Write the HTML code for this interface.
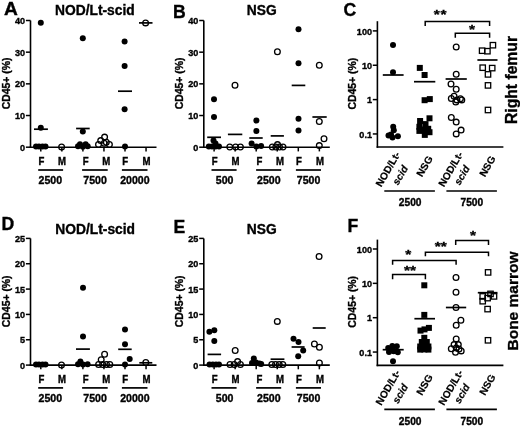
<!DOCTYPE html><html><head><meta charset="utf-8"><style>html,body{margin:0;padding:0;background:#fff;}svg{display:block;font-family:"Liberation Sans", sans-serif;will-change:transform;}</style></head><body>
<svg width="520" height="426" viewBox="0 0 520 426">
<rect width="520" height="426" fill="#fff"/>
<line x1="30.50" y1="20.50" x2="30.50" y2="148.00" stroke="#000" stroke-width="1.6"/>
<line x1="25.90" y1="147.20" x2="30.50" y2="147.20" stroke="#000" stroke-width="1.5"/>
<text transform="translate(25.10 150.80) scale(1.0 1.06)" font-size="9.1" text-anchor="end" font-weight="bold" font-style="normal" stroke="#000" stroke-width="0.35">0</text>
<line x1="25.90" y1="115.52" x2="30.50" y2="115.52" stroke="#000" stroke-width="1.5"/>
<text transform="translate(25.10 119.12) scale(1.0 1.06)" font-size="9.1" text-anchor="end" font-weight="bold" font-style="normal" stroke="#000" stroke-width="0.35">10</text>
<line x1="25.90" y1="83.85" x2="30.50" y2="83.85" stroke="#000" stroke-width="1.5"/>
<text transform="translate(25.10 87.45) scale(1.0 1.06)" font-size="9.1" text-anchor="end" font-weight="bold" font-style="normal" stroke="#000" stroke-width="0.35">20</text>
<line x1="25.90" y1="52.17" x2="30.50" y2="52.17" stroke="#000" stroke-width="1.5"/>
<text transform="translate(25.10 55.77) scale(1.0 1.06)" font-size="9.1" text-anchor="end" font-weight="bold" font-style="normal" stroke="#000" stroke-width="0.35">30</text>
<line x1="25.90" y1="20.50" x2="30.50" y2="20.50" stroke="#000" stroke-width="1.5"/>
<text transform="translate(25.10 24.10) scale(1.0 1.06)" font-size="9.1" text-anchor="end" font-weight="bold" font-style="normal" stroke="#000" stroke-width="0.35">40</text>
<line x1="29.70" y1="147.20" x2="156.50" y2="147.20" stroke="#000" stroke-width="1.6"/>
<line x1="40.80" y1="147.20" x2="40.80" y2="151.40" stroke="#000" stroke-width="1.5"/>
<line x1="61.85" y1="147.20" x2="61.85" y2="151.40" stroke="#000" stroke-width="1.5"/>
<line x1="82.90" y1="147.20" x2="82.90" y2="151.40" stroke="#000" stroke-width="1.5"/>
<line x1="103.95" y1="147.20" x2="103.95" y2="151.40" stroke="#000" stroke-width="1.5"/>
<line x1="125.00" y1="147.20" x2="125.00" y2="151.40" stroke="#000" stroke-width="1.5"/>
<line x1="146.05" y1="147.20" x2="146.05" y2="151.40" stroke="#000" stroke-width="1.5"/>
<text transform="translate(9.90 83.40) rotate(-90)" font-size="10.4" text-anchor="middle" font-weight="bold" font-style="normal" stroke="#000" stroke-width="0.35">CD45+ (%)</text>
<text transform="translate(55.00 15.00)" font-size="13.8" text-anchor="start" font-weight="bold" font-style="normal" stroke="#000" stroke-width="0.35">NOD/Lt-scid</text>
<text transform="translate(4.00 15.30) scale(1.09 1.0)" font-size="17.6" text-anchor="start" font-weight="bold" font-style="normal" stroke="#000" stroke-width="0.35">A</text>
<text transform="translate(41.50 165.20) scale(1.0 1.2)" font-size="9.6" text-anchor="middle" font-weight="bold" font-style="normal" stroke="#000" stroke-width="0.35">F</text>
<text transform="translate(62.00 165.20) scale(1.0 1.2)" font-size="9.6" text-anchor="middle" font-weight="bold" font-style="normal" stroke="#000" stroke-width="0.35">M</text>
<text transform="translate(85.60 165.20) scale(1.0 1.2)" font-size="9.6" text-anchor="middle" font-weight="bold" font-style="normal" stroke="#000" stroke-width="0.35">F</text>
<text transform="translate(106.30 165.20) scale(1.0 1.2)" font-size="9.6" text-anchor="middle" font-weight="bold" font-style="normal" stroke="#000" stroke-width="0.35">M</text>
<text transform="translate(125.20 165.20) scale(1.0 1.2)" font-size="9.6" text-anchor="middle" font-weight="bold" font-style="normal" stroke="#000" stroke-width="0.35">F</text>
<text transform="translate(146.40 165.20) scale(1.0 1.2)" font-size="9.6" text-anchor="middle" font-weight="bold" font-style="normal" stroke="#000" stroke-width="0.35">M</text>
<line x1="38.20" y1="170.00" x2="63.10" y2="170.00" stroke="#000" stroke-width="1.7"/>
<line x1="82.10" y1="170.00" x2="107.70" y2="170.00" stroke="#000" stroke-width="1.7"/>
<line x1="121.90" y1="170.00" x2="147.50" y2="170.00" stroke="#000" stroke-width="1.7"/>
<text transform="translate(50.30 183.90) scale(1.0 1.08)" font-size="10.6" text-anchor="middle" font-weight="bold" font-style="normal" stroke="#000" stroke-width="0.35">2500</text>
<text transform="translate(95.10 183.90) scale(1.0 1.08)" font-size="10.6" text-anchor="middle" font-weight="bold" font-style="normal" stroke="#000" stroke-width="0.35">7500</text>
<text transform="translate(134.90 183.90) scale(1.0 1.08)" font-size="10.6" text-anchor="middle" font-weight="bold" font-style="normal" stroke="#000" stroke-width="0.35">20000</text>
<circle cx="40.80" cy="22.70" r="3.0"/>
<circle cx="40.80" cy="127.80" r="3.0"/>
<line x1="34.00" y1="129.20" x2="47.90" y2="129.20" stroke="#000" stroke-width="1.7"/>
<circle cx="36.00" cy="146.60" r="3.0"/>
<circle cx="39.00" cy="146.60" r="3.0"/>
<circle cx="42.50" cy="146.60" r="3.0"/>
<circle cx="45.50" cy="146.60" r="3.0"/>
<circle cx="61.60" cy="146.90" r="2.85" fill="#fff" fill-opacity="0" stroke="#000" stroke-width="1.3"/>
<circle cx="82.80" cy="38.20" r="3.0"/>
<circle cx="82.80" cy="131.50" r="3.0"/>
<line x1="76.10" y1="128.50" x2="89.70" y2="128.50" stroke="#000" stroke-width="1.7"/>
<circle cx="80.00" cy="144.20" r="3.0"/>
<circle cx="85.60" cy="144.20" r="3.0"/>
<circle cx="78.00" cy="146.30" r="3.0"/>
<circle cx="87.70" cy="146.30" r="3.0"/>
<circle cx="82.80" cy="146.80" r="3.0"/>
<circle cx="104.60" cy="137.10" r="2.85" fill="#fff" fill-opacity="0" stroke="#000" stroke-width="1.3"/>
<circle cx="100.70" cy="140.60" r="2.85" fill="#fff" fill-opacity="0" stroke="#000" stroke-width="1.3"/>
<circle cx="98.50" cy="144.50" r="2.85" fill="#fff" fill-opacity="0" stroke="#000" stroke-width="1.3"/>
<circle cx="104.20" cy="143.20" r="2.85" fill="#fff" fill-opacity="0" stroke="#000" stroke-width="1.3"/>
<circle cx="109.40" cy="144.50" r="2.85" fill="#fff" fill-opacity="0" stroke="#000" stroke-width="1.3"/>
<circle cx="106.30" cy="142.30" r="2.85" fill="#fff" fill-opacity="0" stroke="#000" stroke-width="1.3"/>
<circle cx="124.60" cy="41.60" r="3.0"/>
<circle cx="124.60" cy="66.00" r="3.0"/>
<circle cx="124.60" cy="109.20" r="3.0"/>
<circle cx="125.00" cy="146.50" r="3.0"/>
<line x1="118.00" y1="91.20" x2="132.00" y2="91.20" stroke="#000" stroke-width="1.7"/>
<circle cx="145.60" cy="22.90" r="2.85" fill="#fff" fill-opacity="0" stroke="#000" stroke-width="1.3"/>
<line x1="139.00" y1="22.90" x2="152.50" y2="22.90" stroke="#000" stroke-width="1.7"/>
<line x1="203.80" y1="20.50" x2="203.80" y2="148.00" stroke="#000" stroke-width="1.6"/>
<line x1="199.20" y1="147.20" x2="203.80" y2="147.20" stroke="#000" stroke-width="1.5"/>
<text transform="translate(198.40 150.80) scale(1.0 1.06)" font-size="9.1" text-anchor="end" font-weight="bold" font-style="normal" stroke="#000" stroke-width="0.35">0</text>
<line x1="199.20" y1="115.52" x2="203.80" y2="115.52" stroke="#000" stroke-width="1.5"/>
<text transform="translate(198.40 119.12) scale(1.0 1.06)" font-size="9.1" text-anchor="end" font-weight="bold" font-style="normal" stroke="#000" stroke-width="0.35">10</text>
<line x1="199.20" y1="83.85" x2="203.80" y2="83.85" stroke="#000" stroke-width="1.5"/>
<text transform="translate(198.40 87.45) scale(1.0 1.06)" font-size="9.1" text-anchor="end" font-weight="bold" font-style="normal" stroke="#000" stroke-width="0.35">20</text>
<line x1="199.20" y1="52.17" x2="203.80" y2="52.17" stroke="#000" stroke-width="1.5"/>
<text transform="translate(198.40 55.77) scale(1.0 1.06)" font-size="9.1" text-anchor="end" font-weight="bold" font-style="normal" stroke="#000" stroke-width="0.35">30</text>
<line x1="199.20" y1="20.50" x2="203.80" y2="20.50" stroke="#000" stroke-width="1.5"/>
<text transform="translate(198.40 24.10) scale(1.0 1.06)" font-size="9.1" text-anchor="end" font-weight="bold" font-style="normal" stroke="#000" stroke-width="0.35">40</text>
<line x1="203.00" y1="147.20" x2="329.80" y2="147.20" stroke="#000" stroke-width="1.6"/>
<line x1="214.10" y1="147.20" x2="214.10" y2="151.40" stroke="#000" stroke-width="1.5"/>
<line x1="235.15" y1="147.20" x2="235.15" y2="151.40" stroke="#000" stroke-width="1.5"/>
<line x1="256.20" y1="147.20" x2="256.20" y2="151.40" stroke="#000" stroke-width="1.5"/>
<line x1="277.25" y1="147.20" x2="277.25" y2="151.40" stroke="#000" stroke-width="1.5"/>
<line x1="298.30" y1="147.20" x2="298.30" y2="151.40" stroke="#000" stroke-width="1.5"/>
<line x1="319.35" y1="147.20" x2="319.35" y2="151.40" stroke="#000" stroke-width="1.5"/>
<text transform="translate(183.20 83.40) rotate(-90)" font-size="10.4" text-anchor="middle" font-weight="bold" font-style="normal" stroke="#000" stroke-width="0.35">CD45+ (%)</text>
<text transform="translate(246.80 15.40)" font-size="13.8" text-anchor="start" font-weight="bold" font-style="normal" stroke="#000" stroke-width="0.35">NSG</text>
<text transform="translate(173.00 17.50)" font-size="17.6" text-anchor="start" font-weight="bold" font-style="normal" stroke="#000" stroke-width="0.35">B</text>
<text transform="translate(214.60 165.20) scale(1.0 1.2)" font-size="9.6" text-anchor="middle" font-weight="bold" font-style="normal" stroke="#000" stroke-width="0.35">F</text>
<text transform="translate(235.40 165.20) scale(1.0 1.2)" font-size="9.6" text-anchor="middle" font-weight="bold" font-style="normal" stroke="#000" stroke-width="0.35">M</text>
<text transform="translate(259.40 165.20) scale(1.0 1.2)" font-size="9.6" text-anchor="middle" font-weight="bold" font-style="normal" stroke="#000" stroke-width="0.35">F</text>
<text transform="translate(280.10 165.20) scale(1.0 1.2)" font-size="9.6" text-anchor="middle" font-weight="bold" font-style="normal" stroke="#000" stroke-width="0.35">M</text>
<text transform="translate(299.00 165.20) scale(1.0 1.2)" font-size="9.6" text-anchor="middle" font-weight="bold" font-style="normal" stroke="#000" stroke-width="0.35">F</text>
<text transform="translate(320.00 165.20) scale(1.0 1.2)" font-size="9.6" text-anchor="middle" font-weight="bold" font-style="normal" stroke="#000" stroke-width="0.35">M</text>
<line x1="211.50" y1="170.00" x2="236.60" y2="170.00" stroke="#000" stroke-width="1.7"/>
<line x1="256.10" y1="170.00" x2="281.20" y2="170.00" stroke="#000" stroke-width="1.7"/>
<line x1="295.90" y1="170.00" x2="321.00" y2="170.00" stroke="#000" stroke-width="1.7"/>
<text transform="translate(224.60 183.90) scale(1.0 1.08)" font-size="10.6" text-anchor="middle" font-weight="bold" font-style="normal" stroke="#000" stroke-width="0.35">500</text>
<text transform="translate(268.80 183.90) scale(1.0 1.08)" font-size="10.6" text-anchor="middle" font-weight="bold" font-style="normal" stroke="#000" stroke-width="0.35">2500</text>
<text transform="translate(308.60 183.90) scale(1.0 1.08)" font-size="10.6" text-anchor="middle" font-weight="bold" font-style="normal" stroke="#000" stroke-width="0.35">7500</text>
<circle cx="214.00" cy="99.30" r="3.0"/>
<circle cx="214.00" cy="117.10" r="3.0"/>
<line x1="207.20" y1="137.30" x2="221.00" y2="137.30" stroke="#000" stroke-width="1.7"/>
<circle cx="213.50" cy="140.40" r="3.0"/>
<circle cx="215.50" cy="143.50" r="3.0"/>
<circle cx="208.80" cy="146.60" r="3.0"/>
<circle cx="212.00" cy="146.60" r="3.0"/>
<circle cx="215.50" cy="146.60" r="3.0"/>
<circle cx="219.00" cy="146.60" r="3.0"/>
<circle cx="235.00" cy="85.30" r="2.85" fill="#fff" fill-opacity="0" stroke="#000" stroke-width="1.3"/>
<line x1="227.90" y1="134.40" x2="242.30" y2="134.40" stroke="#000" stroke-width="1.7"/>
<circle cx="229.80" cy="147.00" r="2.85" fill="#fff" fill-opacity="0" stroke="#000" stroke-width="1.3"/>
<circle cx="235.60" cy="147.00" r="2.85" fill="#fff" fill-opacity="0" stroke="#000" stroke-width="1.3"/>
<circle cx="240.40" cy="147.00" r="2.85" fill="#fff" fill-opacity="0" stroke="#000" stroke-width="1.3"/>
<circle cx="256.40" cy="120.60" r="3.0"/>
<circle cx="256.40" cy="130.90" r="3.0"/>
<line x1="249.30" y1="138.00" x2="262.70" y2="138.00" stroke="#000" stroke-width="1.7"/>
<circle cx="251.60" cy="143.60" r="3.0"/>
<circle cx="256.40" cy="146.50" r="3.0"/>
<circle cx="261.10" cy="145.90" r="3.0"/>
<circle cx="277.40" cy="51.70" r="2.85" fill="#fff" fill-opacity="0" stroke="#000" stroke-width="1.3"/>
<line x1="270.70" y1="135.90" x2="283.90" y2="135.90" stroke="#000" stroke-width="1.7"/>
<circle cx="272.30" cy="147.00" r="2.85" fill="#fff" fill-opacity="0" stroke="#000" stroke-width="1.3"/>
<circle cx="275.80" cy="147.00" r="2.85" fill="#fff" fill-opacity="0" stroke="#000" stroke-width="1.3"/>
<circle cx="279.50" cy="147.00" r="2.85" fill="#fff" fill-opacity="0" stroke="#000" stroke-width="1.3"/>
<circle cx="283.00" cy="147.00" r="2.85" fill="#fff" fill-opacity="0" stroke="#000" stroke-width="1.3"/>
<circle cx="277.50" cy="144.60" r="2.85" fill="#fff" fill-opacity="0" stroke="#000" stroke-width="1.3"/>
<circle cx="298.50" cy="29.30" r="3.0"/>
<circle cx="298.50" cy="63.30" r="3.0"/>
<circle cx="298.50" cy="118.70" r="3.0"/>
<circle cx="298.50" cy="130.60" r="3.0"/>
<line x1="291.70" y1="85.40" x2="305.30" y2="85.40" stroke="#000" stroke-width="1.7"/>
<circle cx="319.30" cy="65.30" r="2.85" fill="#fff" fill-opacity="0" stroke="#000" stroke-width="1.3"/>
<circle cx="319.30" cy="121.50" r="2.85" fill="#fff" fill-opacity="0" stroke="#000" stroke-width="1.3"/>
<circle cx="324.00" cy="138.80" r="2.85" fill="#fff" fill-opacity="0" stroke="#000" stroke-width="1.3"/>
<circle cx="319.30" cy="145.60" r="2.85" fill="#fff" fill-opacity="0" stroke="#000" stroke-width="1.3"/>
<line x1="312.40" y1="117.00" x2="326.70" y2="117.00" stroke="#000" stroke-width="1.7"/>
<line x1="377.40" y1="21.20" x2="377.40" y2="147.80" stroke="#000" stroke-width="1.6"/>
<line x1="376.60" y1="147.00" x2="503.40" y2="147.00" stroke="#000" stroke-width="1.6"/>
<line x1="372.80" y1="30.90" x2="377.40" y2="30.90" stroke="#000" stroke-width="1.5"/>
<text transform="translate(372.00 34.60) scale(1.0 1.06)" font-size="9.1" text-anchor="end" font-weight="bold" font-style="normal" stroke="#000" stroke-width="0.35">100</text>
<line x1="372.80" y1="65.25" x2="377.40" y2="65.25" stroke="#000" stroke-width="1.5"/>
<text transform="translate(372.00 68.95) scale(1.0 1.06)" font-size="9.1" text-anchor="end" font-weight="bold" font-style="normal" stroke="#000" stroke-width="0.35">10</text>
<line x1="372.80" y1="99.60" x2="377.40" y2="99.60" stroke="#000" stroke-width="1.5"/>
<text transform="translate(372.00 103.30) scale(1.0 1.06)" font-size="9.1" text-anchor="end" font-weight="bold" font-style="normal" stroke="#000" stroke-width="0.35">1</text>
<line x1="372.80" y1="133.95" x2="377.40" y2="133.95" stroke="#000" stroke-width="1.5"/>
<text transform="translate(372.00 137.65) scale(1.0 1.06)" font-size="9.1" text-anchor="end" font-weight="bold" font-style="normal" stroke="#000" stroke-width="0.35">0.1</text>
<text transform="translate(355.80 83.70) rotate(-90)" font-size="10.4" text-anchor="middle" font-weight="bold" font-style="normal" stroke="#000" stroke-width="0.35">CD45+ (%)</text>
<text transform="translate(343.60 15.90)" font-size="17.6" text-anchor="start" font-weight="bold" font-style="normal" stroke="#000" stroke-width="0.35">C</text>
<text transform="translate(516.70 80.00) rotate(-90)" font-size="15.7" text-anchor="middle" font-weight="bold" font-style="normal" stroke="#000" stroke-width="0.35">Right femur</text>
<text transform="translate(390.94 170.90) rotate(-60)" font-size="10.2" text-anchor="middle" font-weight="bold" font-style="normal" stroke="#000" stroke-width="0.2">NOD/Lt-</text>
<text transform="translate(403.14 177.00) rotate(-60)" font-size="10.2" text-anchor="middle" font-weight="bold" font-style="italic" stroke="#000" stroke-width="0.2">scid</text>
<text transform="translate(427.64 168.00) rotate(-60)" font-size="10.2" text-anchor="middle" font-weight="bold" font-style="normal" stroke="#000" stroke-width="0.2">NSG</text>
<text transform="translate(453.74 170.90) rotate(-60)" font-size="10.2" text-anchor="middle" font-weight="bold" font-style="normal" stroke="#000" stroke-width="0.2">NOD/Lt-</text>
<text transform="translate(464.94 177.00) rotate(-60)" font-size="10.2" text-anchor="middle" font-weight="bold" font-style="italic" stroke="#000" stroke-width="0.2">scid</text>
<text transform="translate(490.44 168.00) rotate(-60)" font-size="10.2" text-anchor="middle" font-weight="bold" font-style="normal" stroke="#000" stroke-width="0.2">NSG</text>
<line x1="384.30" y1="191.00" x2="434.90" y2="191.00" stroke="#000" stroke-width="1.7"/>
<line x1="446.40" y1="191.00" x2="496.90" y2="191.00" stroke="#000" stroke-width="1.7"/>
<text transform="translate(410.20 206.30) scale(1.0 1.06)" font-size="10.2" text-anchor="middle" font-weight="bold" font-style="normal" stroke="#000" stroke-width="0.35">2500</text>
<text transform="translate(471.80 206.30) scale(1.0 1.06)" font-size="10.2" text-anchor="middle" font-weight="bold" font-style="normal" stroke="#000" stroke-width="0.35">7500</text>
<circle cx="393.00" cy="45.10" r="3.0"/>
<circle cx="393.00" cy="72.20" r="3.0"/>
<line x1="382.80" y1="75.00" x2="403.60" y2="75.00" stroke="#000" stroke-width="1.7"/>
<circle cx="393.20" cy="126.80" r="3.0"/>
<circle cx="393.80" cy="130.20" r="3.0"/>
<circle cx="388.50" cy="135.60" r="3.0"/>
<circle cx="392.50" cy="137.60" r="3.0"/>
<circle cx="397.90" cy="136.20" r="3.0"/>
<circle cx="391.00" cy="134.50" r="3.0"/>
<rect x="416.80" y="64.90" width="6.0" height="6.0"/>
<rect x="421.60" y="72.00" width="6.0" height="6.0"/>
<line x1="414.00" y1="81.70" x2="435.30" y2="81.70" stroke="#000" stroke-width="1.7"/>
<rect x="421.60" y="97.20" width="6.0" height="6.0"/>
<rect x="426.80" y="96.10" width="6.0" height="6.0"/>
<rect x="426.50" y="115.30" width="6.0" height="6.0"/>
<rect x="417.10" y="118.00" width="6.0" height="6.0"/>
<rect x="422.50" y="121.10" width="6.0" height="6.0"/>
<rect x="416.40" y="123.80" width="6.0" height="6.0"/>
<rect x="425.20" y="125.80" width="6.0" height="6.0"/>
<rect x="416.40" y="127.90" width="6.0" height="6.0"/>
<rect x="426.50" y="129.20" width="6.0" height="6.0"/>
<rect x="421.80" y="131.90" width="6.0" height="6.0"/>
<rect x="421.50" y="126.50" width="6.0" height="6.0"/>
<circle cx="456.20" cy="47.00" r="2.85" fill="#fff" fill-opacity="0" stroke="#000" stroke-width="1.3"/>
<circle cx="456.20" cy="74.20" r="2.85" fill="#fff" fill-opacity="0" stroke="#000" stroke-width="1.3"/>
<circle cx="451.00" cy="84.00" r="2.85" fill="#fff" fill-opacity="0" stroke="#000" stroke-width="1.3"/>
<circle cx="456.20" cy="89.30" r="2.85" fill="#fff" fill-opacity="0" stroke="#000" stroke-width="1.3"/>
<circle cx="451.30" cy="98.50" r="2.85" fill="#fff" fill-opacity="0" stroke="#000" stroke-width="1.3"/>
<circle cx="454.10" cy="96.30" r="2.85" fill="#fff" fill-opacity="0" stroke="#000" stroke-width="1.3"/>
<circle cx="456.90" cy="99.90" r="2.85" fill="#fff" fill-opacity="0" stroke="#000" stroke-width="1.3"/>
<circle cx="460.40" cy="98.70" r="2.85" fill="#fff" fill-opacity="0" stroke="#000" stroke-width="1.3"/>
<circle cx="461.80" cy="99.90" r="2.85" fill="#fff" fill-opacity="0" stroke="#000" stroke-width="1.3"/>
<circle cx="455.80" cy="102.00" r="2.85" fill="#fff" fill-opacity="0" stroke="#000" stroke-width="1.3"/>
<circle cx="451.30" cy="117.50" r="2.85" fill="#fff" fill-opacity="0" stroke="#000" stroke-width="1.3"/>
<circle cx="456.20" cy="122.10" r="2.85" fill="#fff" fill-opacity="0" stroke="#000" stroke-width="1.3"/>
<circle cx="461.10" cy="130.10" r="2.85" fill="#fff" fill-opacity="0" stroke="#000" stroke-width="1.3"/>
<circle cx="456.20" cy="133.90" r="2.85" fill="#fff" fill-opacity="0" stroke="#000" stroke-width="1.3"/>
<line x1="445.60" y1="79.00" x2="466.80" y2="79.00" stroke="#000" stroke-width="1.7"/>
<rect x="490.20" y="42.50" width="5.4" height="5.4" fill="none" stroke="#000" stroke-width="1.3"/>
<rect x="479.40" y="48.00" width="5.4" height="5.4" fill="none" stroke="#000" stroke-width="1.3"/>
<rect x="484.70" y="48.50" width="5.4" height="5.4" fill="none" stroke="#000" stroke-width="1.3"/>
<rect x="480.00" y="65.00" width="5.4" height="5.4" fill="none" stroke="#000" stroke-width="1.3"/>
<rect x="489.50" y="65.40" width="5.4" height="5.4" fill="none" stroke="#000" stroke-width="1.3"/>
<rect x="485.30" y="71.70" width="5.4" height="5.4" fill="none" stroke="#000" stroke-width="1.3"/>
<rect x="485.30" y="82.70" width="5.4" height="5.4" fill="none" stroke="#000" stroke-width="1.3"/>
<rect x="485.30" y="107.30" width="5.4" height="5.4" fill="none" stroke="#000" stroke-width="1.3"/>
<line x1="477.40" y1="60.00" x2="497.50" y2="60.00" stroke="#000" stroke-width="1.7"/>
<polyline points="425.20,26.00 425.20,21.60 489.60,21.60 489.60,26.00" fill="none" stroke="#000" stroke-width="1.5"/>
<polyline points="455.30,37.70 455.30,33.20 489.60,33.20 489.60,37.70" fill="none" stroke="#000" stroke-width="1.5"/>
<text transform="translate(436.80 19.34) scale(1.0 0.88)" font-size="15.5" text-anchor="middle" font-weight="bold" font-style="normal" stroke="#000" stroke-width="0.35">*</text>
<text transform="translate(443.40 19.34) scale(1.0 0.88)" font-size="15.5" text-anchor="middle" font-weight="bold" font-style="normal" stroke="#000" stroke-width="0.35">*</text>
<text transform="translate(472.10 33.74) scale(1.0 0.88)" font-size="15.5" text-anchor="middle" font-weight="bold" font-style="normal" stroke="#000" stroke-width="0.35">*</text>
<line x1="30.50" y1="238.40" x2="30.50" y2="365.90" stroke="#000" stroke-width="1.6"/>
<line x1="25.90" y1="365.10" x2="30.50" y2="365.10" stroke="#000" stroke-width="1.5"/>
<text transform="translate(25.10 368.70) scale(1.0 1.06)" font-size="9.1" text-anchor="end" font-weight="bold" font-style="normal" stroke="#000" stroke-width="0.35">0</text>
<line x1="25.90" y1="339.76" x2="30.50" y2="339.76" stroke="#000" stroke-width="1.5"/>
<text transform="translate(25.10 343.36) scale(1.0 1.06)" font-size="9.1" text-anchor="end" font-weight="bold" font-style="normal" stroke="#000" stroke-width="0.35">5</text>
<line x1="25.90" y1="314.42" x2="30.50" y2="314.42" stroke="#000" stroke-width="1.5"/>
<text transform="translate(25.10 318.02) scale(1.0 1.06)" font-size="9.1" text-anchor="end" font-weight="bold" font-style="normal" stroke="#000" stroke-width="0.35">10</text>
<line x1="25.90" y1="289.08" x2="30.50" y2="289.08" stroke="#000" stroke-width="1.5"/>
<text transform="translate(25.10 292.68) scale(1.0 1.06)" font-size="9.1" text-anchor="end" font-weight="bold" font-style="normal" stroke="#000" stroke-width="0.35">15</text>
<line x1="25.90" y1="263.74" x2="30.50" y2="263.74" stroke="#000" stroke-width="1.5"/>
<text transform="translate(25.10 267.34) scale(1.0 1.06)" font-size="9.1" text-anchor="end" font-weight="bold" font-style="normal" stroke="#000" stroke-width="0.35">20</text>
<line x1="25.90" y1="238.40" x2="30.50" y2="238.40" stroke="#000" stroke-width="1.5"/>
<text transform="translate(25.10 242.00) scale(1.0 1.06)" font-size="9.1" text-anchor="end" font-weight="bold" font-style="normal" stroke="#000" stroke-width="0.35">25</text>
<line x1="29.70" y1="365.10" x2="156.50" y2="365.10" stroke="#000" stroke-width="1.6"/>
<line x1="40.80" y1="365.10" x2="40.80" y2="369.30" stroke="#000" stroke-width="1.5"/>
<line x1="61.85" y1="365.10" x2="61.85" y2="369.30" stroke="#000" stroke-width="1.5"/>
<line x1="82.90" y1="365.10" x2="82.90" y2="369.30" stroke="#000" stroke-width="1.5"/>
<line x1="103.95" y1="365.10" x2="103.95" y2="369.30" stroke="#000" stroke-width="1.5"/>
<line x1="125.00" y1="365.10" x2="125.00" y2="369.30" stroke="#000" stroke-width="1.5"/>
<line x1="146.05" y1="365.10" x2="146.05" y2="369.30" stroke="#000" stroke-width="1.5"/>
<text transform="translate(9.90 301.30) rotate(-90)" font-size="10.4" text-anchor="middle" font-weight="bold" font-style="normal" stroke="#000" stroke-width="0.35">CD45+ (%)</text>
<text transform="translate(55.30 234.00)" font-size="13.8" text-anchor="start" font-weight="bold" font-style="normal" stroke="#000" stroke-width="0.35">NOD/Lt-scid</text>
<text transform="translate(1.40 230.00)" font-size="17.6" text-anchor="start" font-weight="bold" font-style="normal" stroke="#000" stroke-width="0.35">D</text>
<text transform="translate(41.50 383.10) scale(1.0 1.2)" font-size="9.6" text-anchor="middle" font-weight="bold" font-style="normal" stroke="#000" stroke-width="0.35">F</text>
<text transform="translate(62.00 383.10) scale(1.0 1.2)" font-size="9.6" text-anchor="middle" font-weight="bold" font-style="normal" stroke="#000" stroke-width="0.35">M</text>
<text transform="translate(85.60 383.10) scale(1.0 1.2)" font-size="9.6" text-anchor="middle" font-weight="bold" font-style="normal" stroke="#000" stroke-width="0.35">F</text>
<text transform="translate(106.30 383.10) scale(1.0 1.2)" font-size="9.6" text-anchor="middle" font-weight="bold" font-style="normal" stroke="#000" stroke-width="0.35">M</text>
<text transform="translate(125.20 383.10) scale(1.0 1.2)" font-size="9.6" text-anchor="middle" font-weight="bold" font-style="normal" stroke="#000" stroke-width="0.35">F</text>
<text transform="translate(146.40 383.10) scale(1.0 1.2)" font-size="9.6" text-anchor="middle" font-weight="bold" font-style="normal" stroke="#000" stroke-width="0.35">M</text>
<line x1="38.20" y1="387.90" x2="63.10" y2="387.90" stroke="#000" stroke-width="1.7"/>
<line x1="82.10" y1="387.90" x2="107.70" y2="387.90" stroke="#000" stroke-width="1.7"/>
<line x1="121.90" y1="387.90" x2="147.50" y2="387.90" stroke="#000" stroke-width="1.7"/>
<text transform="translate(50.30 401.80) scale(1.0 1.08)" font-size="10.6" text-anchor="middle" font-weight="bold" font-style="normal" stroke="#000" stroke-width="0.35">2500</text>
<text transform="translate(95.10 401.80) scale(1.0 1.08)" font-size="10.6" text-anchor="middle" font-weight="bold" font-style="normal" stroke="#000" stroke-width="0.35">7500</text>
<text transform="translate(134.90 401.80) scale(1.0 1.08)" font-size="10.6" text-anchor="middle" font-weight="bold" font-style="normal" stroke="#000" stroke-width="0.35">20000</text>
<circle cx="36.00" cy="364.60" r="3.0"/>
<circle cx="39.00" cy="364.60" r="3.0"/>
<circle cx="42.50" cy="364.60" r="3.0"/>
<circle cx="45.50" cy="364.60" r="3.0"/>
<circle cx="61.50" cy="365.00" r="2.85" fill="#fff" fill-opacity="0" stroke="#000" stroke-width="1.3"/>
<circle cx="83.00" cy="287.80" r="3.0"/>
<circle cx="83.00" cy="336.60" r="3.0"/>
<line x1="76.00" y1="349.10" x2="89.90" y2="349.10" stroke="#000" stroke-width="1.7"/>
<circle cx="80.40" cy="361.50" r="3.0"/>
<circle cx="78.00" cy="364.30" r="3.0"/>
<circle cx="83.00" cy="364.60" r="3.0"/>
<circle cx="87.60" cy="364.30" r="3.0"/>
<circle cx="104.60" cy="354.20" r="2.85" fill="#fff" fill-opacity="0" stroke="#000" stroke-width="1.3"/>
<circle cx="101.20" cy="359.80" r="2.85" fill="#fff" fill-opacity="0" stroke="#000" stroke-width="1.3"/>
<circle cx="98.60" cy="364.50" r="2.85" fill="#fff" fill-opacity="0" stroke="#000" stroke-width="1.3"/>
<circle cx="102.60" cy="364.50" r="2.85" fill="#fff" fill-opacity="0" stroke="#000" stroke-width="1.3"/>
<circle cx="106.50" cy="364.50" r="2.85" fill="#fff" fill-opacity="0" stroke="#000" stroke-width="1.3"/>
<circle cx="109.80" cy="364.50" r="2.85" fill="#fff" fill-opacity="0" stroke="#000" stroke-width="1.3"/>
<circle cx="125.00" cy="329.40" r="3.0"/>
<circle cx="125.00" cy="344.30" r="3.0"/>
<circle cx="129.70" cy="359.00" r="3.0"/>
<circle cx="125.00" cy="364.40" r="3.0"/>
<line x1="118.20" y1="349.30" x2="131.70" y2="349.30" stroke="#000" stroke-width="1.7"/>
<circle cx="145.80" cy="362.50" r="2.85" fill="#fff" fill-opacity="0" stroke="#000" stroke-width="1.3"/>
<line x1="139.30" y1="362.80" x2="152.30" y2="362.80" stroke="#000" stroke-width="1.7"/>
<line x1="203.80" y1="238.40" x2="203.80" y2="365.90" stroke="#000" stroke-width="1.6"/>
<line x1="199.20" y1="365.10" x2="203.80" y2="365.10" stroke="#000" stroke-width="1.5"/>
<text transform="translate(198.40 368.70) scale(1.0 1.06)" font-size="9.1" text-anchor="end" font-weight="bold" font-style="normal" stroke="#000" stroke-width="0.35">0</text>
<line x1="199.20" y1="339.76" x2="203.80" y2="339.76" stroke="#000" stroke-width="1.5"/>
<text transform="translate(198.40 343.36) scale(1.0 1.06)" font-size="9.1" text-anchor="end" font-weight="bold" font-style="normal" stroke="#000" stroke-width="0.35">5</text>
<line x1="199.20" y1="314.42" x2="203.80" y2="314.42" stroke="#000" stroke-width="1.5"/>
<text transform="translate(198.40 318.02) scale(1.0 1.06)" font-size="9.1" text-anchor="end" font-weight="bold" font-style="normal" stroke="#000" stroke-width="0.35">10</text>
<line x1="199.20" y1="289.08" x2="203.80" y2="289.08" stroke="#000" stroke-width="1.5"/>
<text transform="translate(198.40 292.68) scale(1.0 1.06)" font-size="9.1" text-anchor="end" font-weight="bold" font-style="normal" stroke="#000" stroke-width="0.35">15</text>
<line x1="199.20" y1="263.74" x2="203.80" y2="263.74" stroke="#000" stroke-width="1.5"/>
<text transform="translate(198.40 267.34) scale(1.0 1.06)" font-size="9.1" text-anchor="end" font-weight="bold" font-style="normal" stroke="#000" stroke-width="0.35">20</text>
<line x1="199.20" y1="238.40" x2="203.80" y2="238.40" stroke="#000" stroke-width="1.5"/>
<text transform="translate(198.40 242.00) scale(1.0 1.06)" font-size="9.1" text-anchor="end" font-weight="bold" font-style="normal" stroke="#000" stroke-width="0.35">25</text>
<line x1="203.00" y1="365.10" x2="329.80" y2="365.10" stroke="#000" stroke-width="1.6"/>
<line x1="214.10" y1="365.10" x2="214.10" y2="369.30" stroke="#000" stroke-width="1.5"/>
<line x1="235.15" y1="365.10" x2="235.15" y2="369.30" stroke="#000" stroke-width="1.5"/>
<line x1="256.20" y1="365.10" x2="256.20" y2="369.30" stroke="#000" stroke-width="1.5"/>
<line x1="277.25" y1="365.10" x2="277.25" y2="369.30" stroke="#000" stroke-width="1.5"/>
<line x1="298.30" y1="365.10" x2="298.30" y2="369.30" stroke="#000" stroke-width="1.5"/>
<line x1="319.35" y1="365.10" x2="319.35" y2="369.30" stroke="#000" stroke-width="1.5"/>
<text transform="translate(183.20 301.30) rotate(-90)" font-size="10.4" text-anchor="middle" font-weight="bold" font-style="normal" stroke="#000" stroke-width="0.35">CD45+ (%)</text>
<text transform="translate(246.80 233.50)" font-size="13.8" text-anchor="start" font-weight="bold" font-style="normal" stroke="#000" stroke-width="0.35">NSG</text>
<text transform="translate(173.50 233.10)" font-size="17.6" text-anchor="start" font-weight="bold" font-style="normal" stroke="#000" stroke-width="0.35">E</text>
<text transform="translate(214.60 383.10) scale(1.0 1.2)" font-size="9.6" text-anchor="middle" font-weight="bold" font-style="normal" stroke="#000" stroke-width="0.35">F</text>
<text transform="translate(235.40 383.10) scale(1.0 1.2)" font-size="9.6" text-anchor="middle" font-weight="bold" font-style="normal" stroke="#000" stroke-width="0.35">M</text>
<text transform="translate(259.40 383.10) scale(1.0 1.2)" font-size="9.6" text-anchor="middle" font-weight="bold" font-style="normal" stroke="#000" stroke-width="0.35">F</text>
<text transform="translate(280.10 383.10) scale(1.0 1.2)" font-size="9.6" text-anchor="middle" font-weight="bold" font-style="normal" stroke="#000" stroke-width="0.35">M</text>
<text transform="translate(299.00 383.10) scale(1.0 1.2)" font-size="9.6" text-anchor="middle" font-weight="bold" font-style="normal" stroke="#000" stroke-width="0.35">F</text>
<text transform="translate(320.00 383.10) scale(1.0 1.2)" font-size="9.6" text-anchor="middle" font-weight="bold" font-style="normal" stroke="#000" stroke-width="0.35">M</text>
<line x1="211.50" y1="387.90" x2="236.60" y2="387.90" stroke="#000" stroke-width="1.7"/>
<line x1="256.10" y1="387.90" x2="281.20" y2="387.90" stroke="#000" stroke-width="1.7"/>
<line x1="295.90" y1="387.90" x2="321.00" y2="387.90" stroke="#000" stroke-width="1.7"/>
<text transform="translate(224.60 401.80) scale(1.0 1.08)" font-size="10.6" text-anchor="middle" font-weight="bold" font-style="normal" stroke="#000" stroke-width="0.35">500</text>
<text transform="translate(268.80 401.80) scale(1.0 1.08)" font-size="10.6" text-anchor="middle" font-weight="bold" font-style="normal" stroke="#000" stroke-width="0.35">2500</text>
<text transform="translate(308.60 401.80) scale(1.0 1.08)" font-size="10.6" text-anchor="middle" font-weight="bold" font-style="normal" stroke="#000" stroke-width="0.35">7500</text>
<circle cx="209.40" cy="331.70" r="3.0"/>
<circle cx="214.30" cy="330.30" r="3.0"/>
<circle cx="214.30" cy="341.10" r="3.0"/>
<line x1="207.60" y1="354.40" x2="221.10" y2="354.40" stroke="#000" stroke-width="1.7"/>
<circle cx="209.50" cy="364.40" r="3.0"/>
<circle cx="212.80" cy="364.40" r="3.0"/>
<circle cx="216.00" cy="364.40" r="3.0"/>
<circle cx="219.00" cy="364.40" r="3.0"/>
<circle cx="235.20" cy="350.50" r="2.85" fill="#fff" fill-opacity="0" stroke="#000" stroke-width="1.3"/>
<circle cx="230.00" cy="364.50" r="2.85" fill="#fff" fill-opacity="0" stroke="#000" stroke-width="1.3"/>
<circle cx="234.20" cy="364.50" r="2.85" fill="#fff" fill-opacity="0" stroke="#000" stroke-width="1.3"/>
<circle cx="237.60" cy="361.60" r="2.85" fill="#fff" fill-opacity="0" stroke="#000" stroke-width="1.3"/>
<circle cx="240.40" cy="364.50" r="2.85" fill="#fff" fill-opacity="0" stroke="#000" stroke-width="1.3"/>
<circle cx="253.80" cy="358.60" r="3.0"/>
<circle cx="252.00" cy="363.00" r="3.0"/>
<circle cx="256.00" cy="362.60" r="3.0"/>
<circle cx="259.50" cy="363.40" r="3.0"/>
<circle cx="261.20" cy="364.00" r="3.0"/>
<circle cx="277.30" cy="321.40" r="2.85" fill="#fff" fill-opacity="0" stroke="#000" stroke-width="1.3"/>
<line x1="270.60" y1="359.20" x2="284.40" y2="359.20" stroke="#000" stroke-width="1.7"/>
<circle cx="271.80" cy="364.50" r="2.85" fill="#fff" fill-opacity="0" stroke="#000" stroke-width="1.3"/>
<circle cx="275.50" cy="364.50" r="2.85" fill="#fff" fill-opacity="0" stroke="#000" stroke-width="1.3"/>
<circle cx="279.20" cy="364.50" r="2.85" fill="#fff" fill-opacity="0" stroke="#000" stroke-width="1.3"/>
<circle cx="282.80" cy="364.50" r="2.85" fill="#fff" fill-opacity="0" stroke="#000" stroke-width="1.3"/>
<circle cx="293.50" cy="338.70" r="3.0"/>
<circle cx="298.50" cy="341.90" r="3.0"/>
<circle cx="303.20" cy="350.40" r="3.0"/>
<circle cx="298.20" cy="356.20" r="3.0"/>
<line x1="291.60" y1="347.00" x2="304.60" y2="347.00" stroke="#000" stroke-width="1.7"/>
<circle cx="319.10" cy="256.50" r="2.85" fill="#fff" fill-opacity="0" stroke="#000" stroke-width="1.3"/>
<circle cx="314.40" cy="344.00" r="2.85" fill="#fff" fill-opacity="0" stroke="#000" stroke-width="1.3"/>
<circle cx="319.40" cy="347.20" r="2.85" fill="#fff" fill-opacity="0" stroke="#000" stroke-width="1.3"/>
<circle cx="319.40" cy="363.00" r="2.85" fill="#fff" fill-opacity="0" stroke="#000" stroke-width="1.3"/>
<line x1="312.70" y1="328.00" x2="325.70" y2="328.00" stroke="#000" stroke-width="1.7"/>
<line x1="377.40" y1="239.60" x2="377.40" y2="366.20" stroke="#000" stroke-width="1.6"/>
<line x1="376.60" y1="365.40" x2="503.40" y2="365.40" stroke="#000" stroke-width="1.6"/>
<line x1="372.80" y1="249.00" x2="377.40" y2="249.00" stroke="#000" stroke-width="1.5"/>
<text transform="translate(372.00 252.70) scale(1.0 1.06)" font-size="9.1" text-anchor="end" font-weight="bold" font-style="normal" stroke="#000" stroke-width="0.35">100</text>
<line x1="372.80" y1="283.35" x2="377.40" y2="283.35" stroke="#000" stroke-width="1.5"/>
<text transform="translate(372.00 287.05) scale(1.0 1.06)" font-size="9.1" text-anchor="end" font-weight="bold" font-style="normal" stroke="#000" stroke-width="0.35">10</text>
<line x1="372.80" y1="317.70" x2="377.40" y2="317.70" stroke="#000" stroke-width="1.5"/>
<text transform="translate(372.00 321.40) scale(1.0 1.06)" font-size="9.1" text-anchor="end" font-weight="bold" font-style="normal" stroke="#000" stroke-width="0.35">1</text>
<line x1="372.80" y1="352.05" x2="377.40" y2="352.05" stroke="#000" stroke-width="1.5"/>
<text transform="translate(372.00 355.75) scale(1.0 1.06)" font-size="9.1" text-anchor="end" font-weight="bold" font-style="normal" stroke="#000" stroke-width="0.35">0.1</text>
<text transform="translate(355.80 301.80) rotate(-90)" font-size="10.4" text-anchor="middle" font-weight="bold" font-style="normal" stroke="#000" stroke-width="0.35">CD45+ (%)</text>
<text transform="translate(347.60 231.70)" font-size="17.6" text-anchor="start" font-weight="bold" font-style="normal" stroke="#000" stroke-width="0.35">F</text>
<text transform="translate(517.80 301.00) rotate(-90)" font-size="15.5" text-anchor="middle" font-weight="bold" font-style="normal" stroke="#000" stroke-width="0.35">Bone marrow</text>
<text transform="translate(390.94 389.30) rotate(-60)" font-size="10.2" text-anchor="middle" font-weight="bold" font-style="normal" stroke="#000" stroke-width="0.2">NOD/Lt-</text>
<text transform="translate(403.14 395.40) rotate(-60)" font-size="10.2" text-anchor="middle" font-weight="bold" font-style="italic" stroke="#000" stroke-width="0.2">scid</text>
<text transform="translate(427.64 386.40) rotate(-60)" font-size="10.2" text-anchor="middle" font-weight="bold" font-style="normal" stroke="#000" stroke-width="0.2">NSG</text>
<text transform="translate(453.74 389.30) rotate(-60)" font-size="10.2" text-anchor="middle" font-weight="bold" font-style="normal" stroke="#000" stroke-width="0.2">NOD/Lt-</text>
<text transform="translate(464.94 395.40) rotate(-60)" font-size="10.2" text-anchor="middle" font-weight="bold" font-style="italic" stroke="#000" stroke-width="0.2">scid</text>
<text transform="translate(490.44 386.40) rotate(-60)" font-size="10.2" text-anchor="middle" font-weight="bold" font-style="normal" stroke="#000" stroke-width="0.2">NSG</text>
<line x1="384.30" y1="409.40" x2="434.90" y2="409.40" stroke="#000" stroke-width="1.7"/>
<line x1="446.40" y1="409.40" x2="496.90" y2="409.40" stroke="#000" stroke-width="1.7"/>
<text transform="translate(410.20 424.70) scale(1.0 1.06)" font-size="10.2" text-anchor="middle" font-weight="bold" font-style="normal" stroke="#000" stroke-width="0.35">2500</text>
<text transform="translate(471.80 424.70) scale(1.0 1.06)" font-size="10.2" text-anchor="middle" font-weight="bold" font-style="normal" stroke="#000" stroke-width="0.35">7500</text>
<circle cx="388.20" cy="348.00" r="3.0"/>
<circle cx="392.30" cy="346.00" r="3.0"/>
<circle cx="396.80" cy="346.30" r="3.0"/>
<circle cx="389.00" cy="352.00" r="3.0"/>
<circle cx="393.60" cy="351.20" r="3.0"/>
<circle cx="397.80" cy="352.20" r="3.0"/>
<circle cx="392.50" cy="348.60" r="3.0"/>
<circle cx="393.00" cy="361.20" r="3.0"/>
<line x1="382.70" y1="349.70" x2="403.70" y2="349.70" stroke="#000" stroke-width="1.7"/>
<rect x="421.30" y="282.30" width="6.0" height="6.0"/>
<rect x="421.30" y="311.90" width="6.0" height="6.0"/>
<line x1="414.40" y1="318.70" x2="435.00" y2="318.70" stroke="#000" stroke-width="1.7"/>
<rect x="417.50" y="327.60" width="6.0" height="6.0"/>
<rect x="425.90" y="324.90" width="6.0" height="6.0"/>
<rect x="421.50" y="326.40" width="6.0" height="6.0"/>
<rect x="421.30" y="334.80" width="6.0" height="6.0"/>
<rect x="418.80" y="339.00" width="6.0" height="6.0"/>
<rect x="423.80" y="339.00" width="6.0" height="6.0"/>
<rect x="417.20" y="343.50" width="6.0" height="6.0"/>
<rect x="425.40" y="343.50" width="6.0" height="6.0"/>
<rect x="421.30" y="343.00" width="6.0" height="6.0"/>
<rect x="417.20" y="346.60" width="6.0" height="6.0"/>
<rect x="425.40" y="346.60" width="6.0" height="6.0"/>
<rect x="421.30" y="346.40" width="6.0" height="6.0"/>
<circle cx="456.00" cy="277.50" r="2.85" fill="#fff" fill-opacity="0" stroke="#000" stroke-width="1.3"/>
<circle cx="456.00" cy="292.30" r="2.85" fill="#fff" fill-opacity="0" stroke="#000" stroke-width="1.3"/>
<circle cx="456.00" cy="307.50" r="2.85" fill="#fff" fill-opacity="0" stroke="#000" stroke-width="1.3"/>
<circle cx="460.90" cy="320.20" r="2.85" fill="#fff" fill-opacity="0" stroke="#000" stroke-width="1.3"/>
<circle cx="456.20" cy="325.20" r="2.85" fill="#fff" fill-opacity="0" stroke="#000" stroke-width="1.3"/>
<circle cx="456.20" cy="338.90" r="2.85" fill="#fff" fill-opacity="0" stroke="#000" stroke-width="1.3"/>
<circle cx="454.10" cy="344.60" r="2.85" fill="#fff" fill-opacity="0" stroke="#000" stroke-width="1.3"/>
<circle cx="458.30" cy="344.60" r="2.85" fill="#fff" fill-opacity="0" stroke="#000" stroke-width="1.3"/>
<circle cx="451.30" cy="348.80" r="2.85" fill="#fff" fill-opacity="0" stroke="#000" stroke-width="1.3"/>
<circle cx="456.20" cy="348.10" r="2.85" fill="#fff" fill-opacity="0" stroke="#000" stroke-width="1.3"/>
<circle cx="461.20" cy="350.90" r="2.85" fill="#fff" fill-opacity="0" stroke="#000" stroke-width="1.3"/>
<circle cx="455.50" cy="352.30" r="2.85" fill="#fff" fill-opacity="0" stroke="#000" stroke-width="1.3"/>
<circle cx="459.00" cy="349.00" r="2.85" fill="#fff" fill-opacity="0" stroke="#000" stroke-width="1.3"/>
<line x1="445.90" y1="307.50" x2="466.20" y2="307.50" stroke="#000" stroke-width="1.7"/>
<rect x="485.40" y="269.70" width="5.4" height="5.4" fill="none" stroke="#000" stroke-width="1.3"/>
<rect x="487.80" y="291.20" width="5.4" height="5.4" fill="none" stroke="#000" stroke-width="1.3"/>
<rect x="491.30" y="293.70" width="5.4" height="5.4" fill="none" stroke="#000" stroke-width="1.3"/>
<rect x="480.00" y="293.70" width="5.4" height="5.4" fill="none" stroke="#000" stroke-width="1.3"/>
<rect x="484.90" y="295.40" width="5.4" height="5.4" fill="none" stroke="#000" stroke-width="1.3"/>
<rect x="480.00" y="298.50" width="5.4" height="5.4" fill="none" stroke="#000" stroke-width="1.3"/>
<rect x="484.90" y="306.40" width="5.4" height="5.4" fill="none" stroke="#000" stroke-width="1.3"/>
<rect x="485.30" y="337.60" width="5.4" height="5.4" fill="none" stroke="#000" stroke-width="1.3"/>
<line x1="477.80" y1="292.70" x2="497.50" y2="292.70" stroke="#000" stroke-width="1.7"/>
<polyline points="392.60,264.80 392.60,260.60 456.10,260.60 456.10,264.80" fill="none" stroke="#000" stroke-width="1.5"/>
<polyline points="392.60,279.20 392.60,274.60 425.40,274.60 425.40,279.20" fill="none" stroke="#000" stroke-width="1.5"/>
<polyline points="425.40,256.30 425.40,252.30 488.50,252.30 488.50,256.30" fill="none" stroke="#000" stroke-width="1.5"/>
<polyline points="455.70,244.90 455.70,240.50 488.50,240.50 488.50,244.90" fill="none" stroke="#000" stroke-width="1.5"/>
<text transform="translate(408.30 259.44) scale(1.0 0.88)" font-size="15.5" text-anchor="middle" font-weight="bold" font-style="normal" stroke="#000" stroke-width="0.35">*</text>
<text transform="translate(406.95 275.34) scale(1.0 0.88)" font-size="15.5" text-anchor="middle" font-weight="bold" font-style="normal" stroke="#000" stroke-width="0.35">*</text>
<text transform="translate(413.05 275.34) scale(1.0 0.88)" font-size="15.5" text-anchor="middle" font-weight="bold" font-style="normal" stroke="#000" stroke-width="0.35">*</text>
<text transform="translate(437.70 250.64) scale(1.0 0.88)" font-size="15.5" text-anchor="middle" font-weight="bold" font-style="normal" stroke="#000" stroke-width="0.35">*</text>
<text transform="translate(443.70 250.64) scale(1.0 0.88)" font-size="15.5" text-anchor="middle" font-weight="bold" font-style="normal" stroke="#000" stroke-width="0.35">*</text>
<text transform="translate(473.10 240.34) scale(1.0 0.88)" font-size="15.5" text-anchor="middle" font-weight="bold" font-style="normal" stroke="#000" stroke-width="0.35">*</text>
</svg></body></html>
